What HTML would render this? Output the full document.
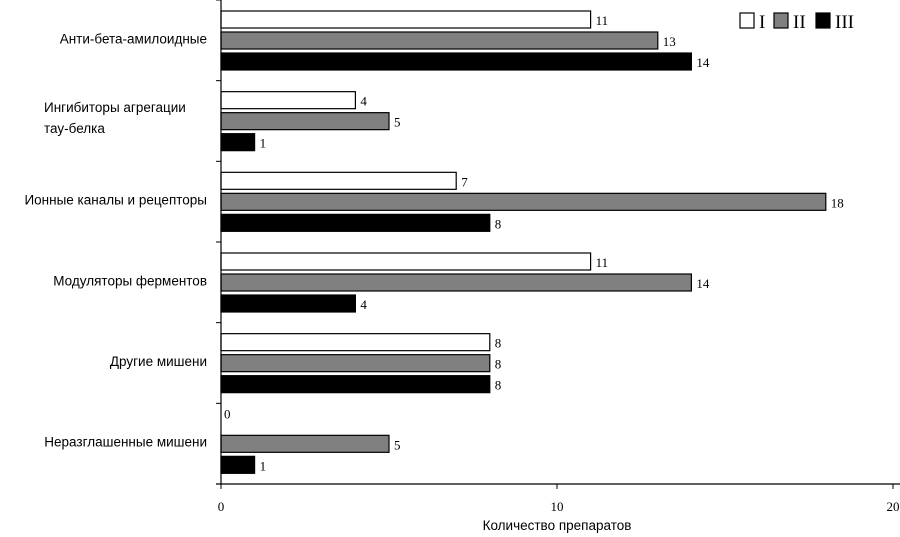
<!DOCTYPE html>
<html><head><meta charset="utf-8"><style>body{margin:0;background:#fff}svg{display:block}</style></head><body>
<svg id="c" width="900" height="537" xmlns="http://www.w3.org/2000/svg"></svg>
<script>
const categories=["Анти-бета-амилоидные",["Ингибиторы агрегации","тау-белка"],"Ионные каналы и рецепторы","Модуляторы ферментов","Другие мишени","Неразглашенные мишени"];
const seriesI=[11,4,7,11,8,0];
const seriesII=[13,5,18,14,8,5];
const seriesIII=[14,1,8,4,8,1];
const xTicks=[0,10,20];
const seriesNames=["I","II","III"];
const svg=document.getElementById('c');
const NS='http://www.w3.org/2000/svg';
const x0=221,x1=893,yTop=0,yBot=484,xmax=20;
const X=v=>x0+(x1-x0)*v/xmax;
const gh=(yBot-yTop)/categories.length;
function mk(t,a,txt){const e=document.createElementNS(NS,t);for(const k in a)e.setAttribute(k,a[k]);if(txt!=null)e.textContent=txt;svg.appendChild(e);return e;}
const fills=["#fff","#808080","#000"];
const series=[seriesI,seriesII,seriesIII];
categories.forEach((c,i)=>{
  const gy=yTop+i*gh;
  series.forEach((s,j)=>{
    const y=gy+11+j*21;
    const r=mk('rect',{x:X(0),y:y,width:X(s[i])-X(0),height:17,fill:fills[j],stroke:'#000','stroke-width':1.2});
    
    
    const t=mk('text',{x:X(s[i])+(s[i]===0?3:5),y:s[i]===0?y+4:y+14,'font-family':'Liberation Serif, serif','font-size':13},String(s[i]));
    
    
  });
  const lines=Array.isArray(c)?c:[c];
  const cy=gy+gh/2-(Array.isArray(c)?12:0)-2;
  lines.forEach((l,k)=>{
    const t=mk('text',{x:Array.isArray(c)?44:207,y:cy+k*21+5,'text-anchor':Array.isArray(c)?'start':'end','font-family':'Liberation Sans, sans-serif','font-size':13.5},l);
    
    
  });
  const tk=mk('line',{x1:216,x2:x0,y1:gy,y2:gy,stroke:'#000'});
  
  
});
let a=mk('line',{x1:x0,x2:x0,y1:yTop,y2:yBot,stroke:'#000','stroke-width':1.2});


a=mk('line',{x1:216,x2:x1+7,y1:yBot,y2:yBot,stroke:'#000','stroke-width':1.2});


xTicks.forEach(v=>{
  const l=mk('line',{x1:X(v),x2:X(v),y1:yBot,y2:yBot+5,stroke:'#000'});
  
  
  const t=mk('text',{x:X(v),y:511,'text-anchor':'middle','font-family':'Liberation Serif, serif','font-size':13},String(v));
  
  
});
a=mk('text',{x:557,y:530,'text-anchor':'middle','font-family':'Liberation Sans, sans-serif','font-size':13.5},'Количество препаратов');


const lx=[740,774,816];
seriesNames.forEach((n,j)=>{
  const r=mk('rect',{x:lx[j],y:13,width:14,height:15,fill:fills[j],stroke:'#000','stroke-width':1.2});
  
  
  const t=mk('text',{x:lx[j]+19,y:28,'font-family':'Liberation Serif, serif','font-size':19},n);
  
  
});
</script>
</body></html>
